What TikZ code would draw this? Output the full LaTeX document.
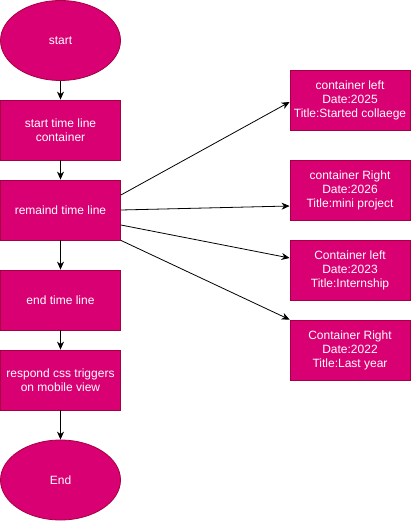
\documentclass[tikz,border=0pt]{standalone}
\usepackage{fontspec}
\setmainfont{Liberation Sans}
\usetikzlibrary{arrows.meta,shapes.geometric,calc}
\definecolor{mag}{HTML}{D80073}
\definecolor{magb}{HTML}{A50040}
\begin{document}
\begin{tikzpicture}[x=1pt,y=-1pt,
  base/.style={fill=mag,draw=magb,line width=0.8pt,text=white,font=\fontsize{12}{14}\selectfont,align=center,inner sep=0pt},
  box/.style={base,rectangle,minimum width=120pt,minimum height=60pt},
  oval/.style={base,ellipse,minimum width=120pt,minimum height=80pt},
  arr/.style={draw=black,line width=0.8pt,-{Stealth[length=8pt,width=7pt,inset=2.5pt]}}]
\useasboundingbox (0,0) rectangle (411,521);
\node[oval] (s) at (60.5,40.5) {start};
\node[box] (b1) at (60.5,130) {start time line\\container};
\node[box] (b2) at (60.5,210) {remaind time line};
\node[box] (b3) at (60.5,300) {end time line};
\node[box] (b4) at (60.5,380) {respond css triggers\\on mobile view};
\node[oval] (e) at (60.5,480) {End};
\node[box] (r1) at (350,100) {container left\\Date:2025\\Title:Started collaege};
\node[box] (r2) at (350,190) {container Right\\Date:2026\\Title:mini project};
\node[box] (r3) at (350,270) {Container left\\Date:2023\\Title:Internship};
\node[box] (r4) at (350,350) {Container Right\\Date:2022\\Title:Last year};
\draw[arr] (s) -- (b1);
\draw[arr] (b1) -- (b2);
\draw[arr] (b2) -- (b3);
\draw[arr] (b3) -- (b4);
\draw[arr] (b4) -- (e);
\draw[arr] ($(b2.east)+(0,-15)$) -- ($(r1.west)+(0,2)$);
\draw[arr] (b2.east) -- ($(r2.west)+(0,16)$);
\draw[arr] ($(b2.east)+(0,15)$) -- ($(r3.west)+(0,-12)$);
\draw[arr] (b2.south east) -- (r4.north west);
\end{tikzpicture}
\end{document}
